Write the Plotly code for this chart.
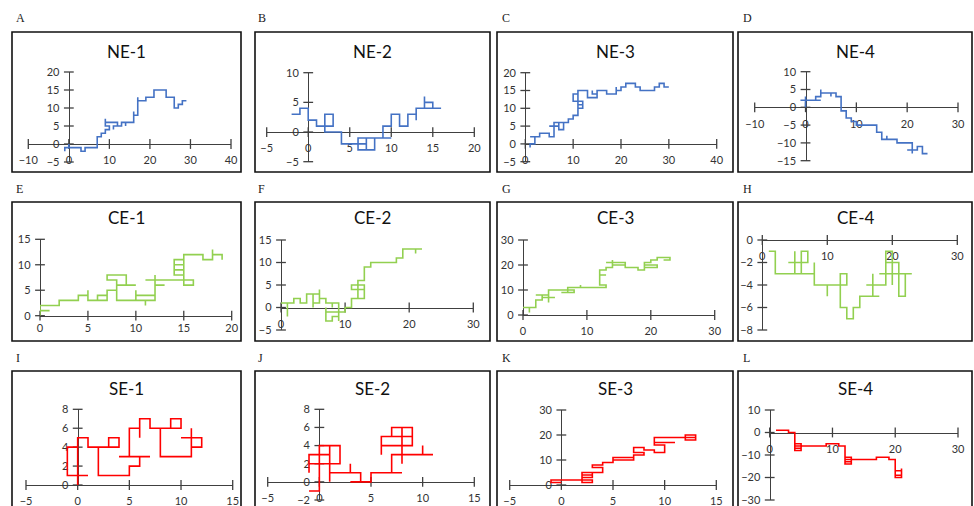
import plotly.graph_objects as go

# ---------------- data: walk paths (x, y vertices) ----------------
ne1_path = [(-1,-2),(-1,-1),(0,-1),(0,0),(0,-1),(3,-1),(3,-2),(4,-2),(4,-1),(7,-1),(7,2),(8,2),(8,3),(9,3),(9,4),(10,4),(10,5),(9,5),(9,7),(9,6),(12,6),(12,5),(11,5),(11,4),(11,5),(13,5),(13,6),(14,6),(14,5),(14,6),(16,6),(16,9),(16,8),(17,8),(17,13),(17,12),(19,12),(19,13),(21,13),(21,15),(24,15),(24,13),(26,13),(26,10),(27,10),(27,11),(28,11),(28,12),(29,12)]
ne2_path = [(-2,3),(-1,3),(-1,4),(0,4),(0,2),(1,2),(1,1),(3,1),(3,3),(2,3),(2,0),(4,0),(4,-2),(6,-2),(6,-3),(8,-3),(8,-1),(6,-1),(6,-2),(7,-2),(7,-3),(7,-1),(10,-1),(9,-1),(9,1),(10,1),(10,3),(11,3),(11,1),(12,1),(12,3),(13,3),(13,2),(13,4),(15,4),(15,5),(14,5),(14,6),(14,4),(16,4)]
ne3_path = [(1,-1),(1,0),(2,0),(2,2),(1,2),(3,2),(3,3),(5,3),(5,2),(6,2),(6,5),(5,5),(7,5),(6,5),(6,6),(8,6),(8,4),(7,4),(7,6),(9,6),(9,7),(10,7),(10,8),(11,8),(11,14),(10,14),(10,12),(12,12),(12,10),(11,10),(12,10),(12,11),(11,11),(11,15),(13,15),(13,13),(15,13),(15,14),(14,14),(14,15),(14,14),(15,14),(15,15),(17,15),(17,14),(19,14),(19,16),(19,15),(20,15),(20,16),(21,16),(21,17),(23,17),(23,16),(24,16),(24,15),(27,15),(27,16),(28,16),(28,17),(29,17),(29,16),(30,16)]
ne4_path = [(-1,2),(0,2),(0,0),(0,3),(0,2),(3,2),(2,2),(2,3),(3,3),(3,5),(3,4),(5,4),(5,3),(5,4),(6,4),(6,3),(7,3),(7,-1),(8,-1),(8,-3),(9,-3),(9,-4),(10,-4),(10,-5),(14,-5),(14,-7),(15,-7),(15,-9),(16,-9),(16,-8),(16,-9),(18,-9),(18,-10),(21,-10),(21,-13),(21,-12),(20,-12),(22,-12),(22,-11),(23,-11),(23,-13),(24,-13)]
ce1_path = [(1,1),(0,1),(0,0),(0,2),(2,2),(2,3),(4,3),(4,4),(5,4),(5,5),(5,3),(7,3),(7,4),(6,4),(6,3),(7,3),(7,5),(8,5),(8,6),(10,6),(9,6),(9,8),(7,8),(7,7),(8,7),(8,3),(12,3),(12,4),(10,4),(10,5),(10,3),(11,3),(11,2),(11,3),(12,3),(12,8),(12,7),(11,7),(12,7),(12,6),(13,6),(12,6),(12,7),(16,7),(16,6),(15,6),(15,12),(15,11),(14,11),(14,10),(15,10),(14,10),(14,9),(15,9),(14,9),(14,8),(15,8),(15,12),(17,12),(17,11),(18,11),(18,13),(18,12),(19,12),(19,11)]
ce2_path = [(0,1),(1,1),(1,-2),(1,1),(2,1),(2,2),(3,2),(3,1),(4,1),(4,3),(6,3),(6,4),(6,1),(5,1),(5,0),(5,3),(5,1),(6,1),(6,2),(7,2),(7,1),(9,1),(8,1),(8,0),(8,1),(9,1),(9,-3),(9,-2),(8,-2),(8,-3),(7,-3),(7,0),(7,-1),(10,-1),(10,0),(11,0),(11,2),(13,2),(13,5),(11,5),(11,4),(13,4),(12,4),(12,2),(12,6),(13,6),(13,9),(14,9),(14,10),(18,10),(18,11),(19,11),(19,13),(21,13),(21,12),(21,13),(22,13)]
ce3_path = [(0,3),(2,3),(1,3),(1,1),(1,3),(2,3),(2,6),(3,6),(3,8),(2,8),(4,8),(4,5),(4,10),(4,7),(3,7),(5,7),(4,7),(4,10),(7,10),(7,9),(6,9),(8,9),(8,10),(7,10),(7,11),(9,11),(9,12),(9,11),(13,11),(13,12),(12,12),(12,16),(13,16),(12,16),(12,18),(13,18),(13,19),(14,19),(14,22),(14,21),(13,21),(16,21),(16,20),(14,20),(16,20),(16,19),(18,19),(18,18),(19,18),(19,20),(21,20),(21,19),(19,19),(19,21),(20,21),(20,22),(21,22),(21,23),(23,23),(23,22),(22,22)]
ce4_path = [(1,-1),(2,-1),(2,-3),(6,-3),(6,-1),(7,-1),(7,-2),(4,-2),(5,-2),(5,-1),(5,-3),(8,-3),(8,-2),(8,-4),(10,-4),(10,-5),(10,-4),(13,-4),(13,-3),(12,-3),(12,-6),(13,-6),(13,-7),(14,-7),(14,-6),(15,-6),(15,-5),(18,-5),(17,-5),(17,-3),(17,-4),(16,-4),(19,-4),(19,-1),(20,-1),(20,-4),(20,-2),(19,-2),(21,-2),(21,-5),(22,-5),(22,-3),(18,-3),(23,-3)]
se1_path = [(0,0),(0,4),(-1,4),(-1,1),(1,1),(0,1),(0,5),(1,5),(1,4),(3,4),(3,5),(4,5),(4,4),(2,4),(2,1),(5,1),(5,2),(6,2),(6,3),(4,3),(7,3),(5,3),(5,6),(6,6),(6,5),(6,7),(7,7),(7,6),(10,6),(10,7),(9,7),(9,6),(8,6),(8,3),(11,3),(11,6),(11,5),(10,5),(12,5),(12,4),(11,4)]
se2_path = [(-1,-1),(0,-1),(0,4),(2,4),(2,2),(-1,2),(-1,1),(-1,3),(1,3),(1,4),(1,0),(1,1),(4,1),(3,1),(3,2),(3,1),(4,1),(4,0),(3,0),(5,0),(5,1),(8,1),(7,1),(7,3),(11,3),(10,3),(10,4),(10,3),(8,3),(8,2),(8,6),(9,6),(9,4),(6,4),(6,3),(6,5),(9,5),(8,5),(8,6),(7,6),(7,5)]
se3_path = [(-1,1),(0,1),(-1,1),(-1,2),(3,2),(3,1),(2,1),(2,5),(3,5),(3,4),(2,4),(2,3),(3,3),(3,5),(4,5),(4,7),(3,7),(3,8),(4,8),(4,9),(5,9),(5,11),(7,11),(7,10),(5,10),(7,10),(7,12),(8,12),(8,13),(7,13),(7,15),(8,15),(8,14),(9,14),(9,13),(10,13),(10,16),(9,16),(9,17),(11,17),(9,17),(9,19),(12,19),(12,18),(13,18),(13,20),(12,20),(12,19),(13,19)]
se4_path = [(1,1),(3,1),(3,0),(4,0),(4,-8),(5,-8),(5,-5),(4,-5),(5,-5),(5,-7),(4,-7),(4,-6),(9,-6),(9,-5),(11,-5),(11,-6),(12,-6),(12,-14),(13,-14),(13,-11),(12,-11),(13,-11),(13,-13),(12,-13),(12,-12),(17,-12),(17,-11),(19,-11),(19,-12),(20,-12),(20,-20),(21,-20),(21,-17),(20,-17),(21,-17),(21,-19),(20,-19),(21,-19),(21,-16)]

titles = ["NE-1","NE-2","NE-3","NE-4","CE-1","CE-2","CE-3","CE-4","SE-1","SE-2","SE-3","SE-4"]
letters = ["A","B","C","D","E","F","G","H","I","J","K","L"]
paths = [ne1_path, ne2_path, ne3_path, ne4_path, ce1_path, ce2_path, ce3_path, ce4_path,
         se1_path, se2_path, se3_path, se4_path]

x_ranges = [(-10,40),(-5,20),(0,40),(-10,30),(0,20),(0,30),(0,30),(0,30),(-5,15),(-5,15),(-5,15),(0,30)]
y_ranges = [(-5,20),(-5,10),(-5,20),(-15,10),(0,15),(-5,15),(0,30),(-8,0),(0,8),(-2,8),(0,30),(-30,10)]
x_ticks = [[-10,0,10,20,30,40],[-5,0,5,10,15,20],[0,10,20,30,40],[-10,0,10,20,30],
           [0,5,10,15,20],[0,10,20,30],[0,10,20,30],[0,10,20,30],
           [-5,0,5,10,15],[-5,0,5,10,15],[-5,0,5,10,15],[0,10,20,30]]
y_ticks = [[-5,0,5,10,15,20],[-5,0,5,10],[-5,0,5,10,15,20],[-15,-10,-5,0,5,10],
           [0,5,10,15],[-5,0,5,10,15],[0,10,20,30],[-8,-6,-4,-2,0],
           [0,2,4,6,8],[-2,0,2,4,6,8],[0,10,20,30],[-30,-20,-10,0,10]]

# ---------------- layout (pixel geometry) ----------------
W, H = 974, 506
def fx(px): return px / W
def fy(py): return 1 - py / H

plot_px = [(28.3,231,72,162),(266.7,474.3,72.7,161.7),(525.3,716.7,72.7,161.7),(754.7,958,71.7,160.7),
           (40,231.7,239.3,315.7),(281,473.3,240,330),(523,714.7,240,315),(762.3,957.3,240,330),
           (26,232.7,409.3,485),(267.7,474.3,409.3,500),(509.7,716.3,410,485),(769.7,958,410,500)]
x_label_gap = [6,6,6,6,2,6,6,6,6,6,6,6]
box_cols = [(12,241),(255,490),(497,733),(738,972)]
box_rows = [(32,172),(202,341),(371,540)]
title_py = [52,218,388]
letter_px = [14,256,500,741]
letter_py = [18,189,358]
colors = ["#4472C4"]*4 + ["#92D050"]*4 + ["#FF0000"]*4

AXC = "#404040"
FONT = "Lato, Carlito, 'Open Sans', sans-serif"

fig = go.Figure()
layout = dict(width=W, height=H, margin=dict(l=0, r=0, t=0, b=0),
              paper_bgcolor="white", plot_bgcolor="rgba(0,0,0,0)", showlegend=False)
shapes, annotations = [], []

for i in range(12):
    k = "" if i == 0 else str(i + 1)
    x0, x1, yt, yb = plot_px[i]
    xr, yr = x_ranges[i], y_ranges[i]
    xdom = [fx(x0), fx(x1)]
    ydom = [fy(yb), fy(yt)]
    ypos0 = ydom[0] + (0 - yr[0]) / (yr[1] - yr[0]) * (ydom[1] - ydom[0])
    xpos0 = xdom[0] + (0 - xr[0]) / (xr[1] - xr[0]) * (xdom[1] - xdom[0])
    layout["xaxis" + k] = dict(domain=xdom, range=list(xr), anchor="free", position=ypos0,
                               showline=True, linecolor=AXC, linewidth=1.4, showgrid=False,
                               zeroline=False, tickvals=x_ticks[i], ticks="outside", ticklen=x_label_gap[i],
                               tickcolor="rgba(0,0,0,0)", tickfont=dict(family=FONT, size=11, color="#333"),
                               fixedrange=True, layer="below traces", automargin=False)
    layout["yaxis" + k] = dict(domain=ydom, range=list(yr), anchor="free", position=xpos0,
                               showline=True, linecolor=AXC, linewidth=1.4, showgrid=False,
                               zeroline=False, tickvals=y_ticks[i], ticks="outside", ticklen=7,
                               tickcolor="rgba(0,0,0,0)", tickfont=dict(family=FONT, size=11, color="#333"),
                               fixedrange=True, layer="below traces", automargin=False)
    xa, ya = "x" + k, "y" + k
    # crossing tick marks
    fig.add_trace(go.Scatter(x=x_ticks[i], y=[0]*len(x_ticks[i]), xaxis=xa, yaxis=ya, mode="markers",
                             marker=dict(symbol="line-ns", size=7, line=dict(width=1.3, color=AXC)),
                             cliponaxis=False, hoverinfo="skip"))
    fig.add_trace(go.Scatter(x=[0]*len(y_ticks[i]), y=y_ticks[i], xaxis=xa, yaxis=ya, mode="markers",
                             marker=dict(symbol="line-ew", size=7, line=dict(width=1.3, color=AXC)),
                             cliponaxis=False, hoverinfo="skip"))
    px_, py_ = zip(*paths[i])
    fig.add_trace(go.Scatter(x=list(px_), y=list(py_), xaxis=xa, yaxis=ya, mode="lines",
                             line=dict(color=colors[i], width=1.6), cliponaxis=False))
    r, c = divmod(i, 4)
    bx0, bx1 = box_cols[c]
    by0, by1 = box_rows[r]
    shapes.append(dict(type="rect", xref="paper", yref="paper", x0=fx(bx0), x1=fx(bx1),
                       y0=fy(by1), y1=fy(by0), line=dict(color="#111", width=1.6)))
    annotations.append(dict(xref="paper", yref="paper", x=fx((bx0 + bx1) / 2), y=fy(title_py[r]),
                            text=titles[i], showarrow=False, xanchor="center", yanchor="middle",
                            font=dict(family=FONT, size=17, color="#111")))
    annotations.append(dict(xref="paper", yref="paper", x=fx(letter_px[c]), y=fy(letter_py[r]),
                            text=letters[i], showarrow=False, xanchor="left", yanchor="middle",
                            font=dict(family="Liberation Serif, serif", size=12, color="#222")))

layout["shapes"] = shapes
layout["annotations"] = annotations
fig.update_layout(**layout)
fig.write_html("out.html", config={"displayModeBar": False},
               post_script="document.body.style.margin='0';document.body.style.overflow='hidden';")
